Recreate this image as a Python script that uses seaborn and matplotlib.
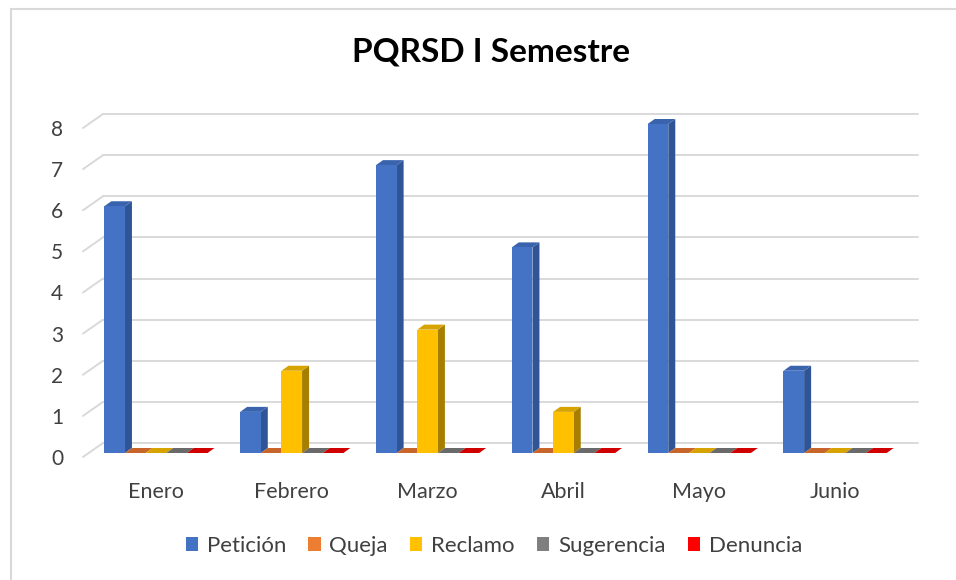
import numpy as np
import pandas as pd
import matplotlib
matplotlib.use("Agg")
import matplotlib.pyplot as plt
import matplotlib.transforms as mtransforms
from matplotlib.patches import Polygon, Rectangle, Patch
import seaborn as sns

meses = ["Enero", "Febrero", "Marzo", "Abril", "Mayo", "Junio"]
tipos = ["Petición", "Queja", "Reclamo", "Sugerencia", "Denuncia"]
peticion = [6, 1, 7, 5, 8, 2]
queja = [0, 0, 0, 0, 0, 0]
reclamo = [0, 2, 3, 1, 0, 0]
sugerencia = [0, 0, 0, 0, 0, 0]
denuncia = [0, 0, 0, 0, 0, 0]

colores = ["#4472C4", "#ED7D31", "#FFC000", "#7F7F7F", "#FF0000"]
lados = ["#2F5597", "#A8561C", "#A67F00", "#555555", "#B00000"]
techos = ["#3A63AE", "#C8652A", "#D6A300", "#6A6A6A", "#D00000"]

df = pd.DataFrame({
    "Mes": meses * 5,
    "Tipo": np.repeat(tipos, len(meses)),
    "Valor": peticion + queja + reclamo + sugerencia + denuncia,
})

sns.set_style("white")
plt.rcParams["font.family"] = ["Lato", "DejaVu Sans"]

DPI = 100
fig = plt.figure(figsize=(9.56, 5.80), dpi=DPI)
ax = fig.add_axes([88 / 956, (580 - 453) / 580, 815 / 956, 329 / 580])

sns.barplot(data=df, x="Mes", y="Valor", hue="Tipo", palette=colores,
            saturation=1, width=0.76, ax=ax, legend=False, zorder=5)
ax.set_ylim(0, 8)
ax.set_xlim(-0.5, 5.5)
for s in ax.spines.values():
    s.set_visible(False)
ax.set_xlabel("")
ax.set_ylabel("")
ax.set_yticks(range(0, 9))
ax.tick_params(axis="y", length=0, pad=18, labelsize=15, labelcolor="#404040")
ax.tick_params(axis="x", length=0, pad=21, labelsize=15.5, labelcolor="#404040")


def px(dx, dy):
    return mtransforms.ScaledTranslation(dx / DPI, dy / DPI, fig.dpi_scale_trans)


for lab in ax.get_yticklabels():
    lab.set_transform(lab.get_transform() + px(0, -4))

# back wall gridlines with oblique lead-in
ytr = ax.get_yaxis_transform()
for v in range(0, 9):
    ax.plot([0, 1], [v, v], transform=ytr + px(15, 10), color="#D9D9D9",
            lw=1.4, zorder=1, clip_on=False)
    p0 = ytr.transform((0, v)) + np.array([-5, -4])
    p1 = ytr.transform((0, v)) + np.array([15, 10])
    ax.plot([p0[0], p1[0]], [p0[1], p1[1]], transform=None, color="#D9D9D9",
            lw=1.4, zorder=1, clip_on=False)

# 3D faces for each bar
fig.canvas.draw()
dx, dy = 7, 5
inv = ax.transData.inverted()
for i, cont in enumerate(ax.containers):
    for bar in cont:
        x0, y0 = bar.get_x(), bar.get_y()
        x1, y1 = x0 + bar.get_width(), y0 + bar.get_height()
        (a0, b0), (a1, b1) = ax.transData.transform([(x0, y0), (x1, y1)])
        z = 5 + bar.get_x() * 0.01
        top = [(a0, b1), (a1, b1), (a1 + dx, b1 + dy), (a0 + dx, b1 + dy)]
        side = [(a1, b0), (a1 + dx, b0 + dy), (a1 + dx, b1 + dy), (a1, b1)]
        ax.add_patch(Polygon(inv.transform(side), closed=True, facecolor=lados[i],
                             edgecolor="none", zorder=z, clip_on=False))
        ax.add_patch(Polygon(inv.transform(top), closed=True, facecolor=techos[i],
                             edgecolor="none", zorder=z, clip_on=False))
        bar.set_zorder(z + 0.001)
        bar.set_edgecolor("none")

fig.text(491 / 956, 1 - 52 / 580, "PQRSD I Semestre", ha="center", va="center",
         fontsize=24, fontweight="bold", color="black")

handles = [Patch(facecolor=c, edgecolor="none", label=t) for c, t in zip(colores, tipos)]
fig.legend(handles=handles, loc="center", bbox_to_anchor=(494 / 956, 1 - 546 / 580),
           ncol=5, frameon=False, fontsize=16, handlelength=0.55, handleheight=0.55,
           handletextpad=0.4, columnspacing=1.0, labelcolor="#404040")

fig.patches.append(Rectangle((11 / 956, -0.1), 1.2, (580 - 9) / 580 + 0.1,
                             transform=fig.transFigure, facecolor="none",
                             edgecolor="#D9D9D9", lw=1.5, zorder=0))

fig.savefig("out.png", dpi=DPI)
